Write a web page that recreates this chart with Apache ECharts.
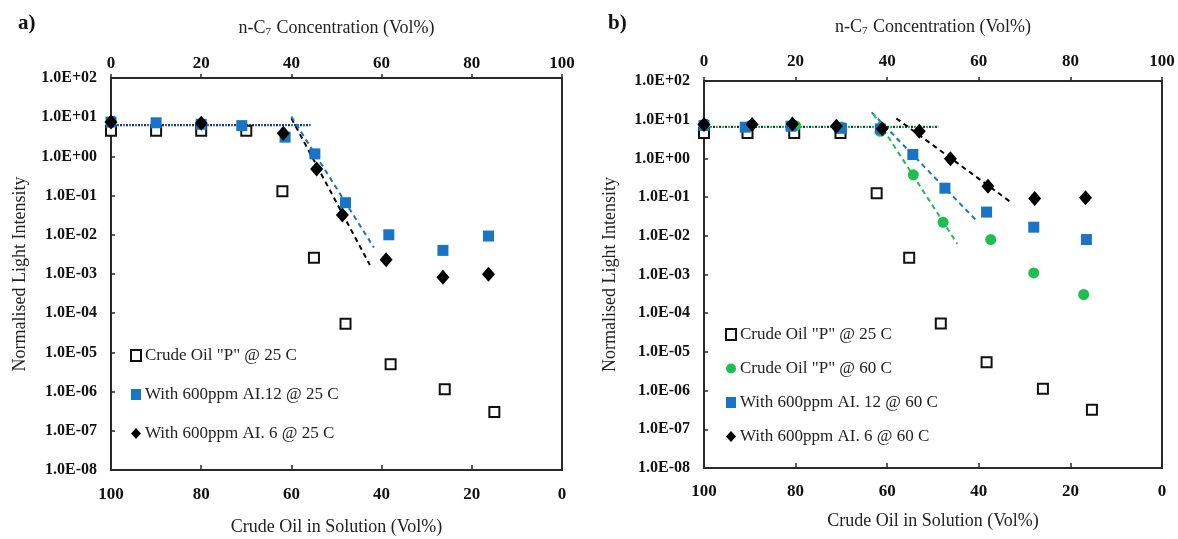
<!DOCTYPE html>
<html><head><meta charset="utf-8">
<script src="https://cdn.jsdelivr.net/npm/echarts@6/dist/echarts.min.js"></script>
<style>html,body{margin:0;padding:0;background:#fff}#c{width:1178px;height:539px}</style>
</head><body><div id="c"></div>
<script>
// ---------- Data (x = Crude Oil in Solution, Vol%; y = Normalised Light Intensity) ----------
// Panel a)
const aP25_x  = [100, 90, 80, 70, 62, 55, 48, 38, 26, 15];
const aP25_y  = [4.5, 4.5, 4.5, 4.5, 0.13, 0.0026, 5.4e-5, 5.0e-6, 1.15e-6, 3.0e-7];
const aAI12_x = [100, 90, 80, 71, 61.4, 54.8, 48, 38.4, 26.4, 16.3];
const aAI12_y = [7.5, 7.2, 6.6, 6.1, 3.1, 1.16, 0.066, 0.010, 0.0040, 0.0093];
const aAI6_x  = [100, 80, 61.8, 54.4, 48.7, 39.0, 26.4, 16.3];
const aAI6_y  = [7.5, 7.0, 3.9, 0.48, 0.032, 0.0023, 8.3e-4, 9.8e-4];
// trend lines a) (end points)
const aFlat_x = [100, 55.7];  const aFlat_y = [6.3, 6.3];
const aAI6Trend_x  = [60, 42.6]; const aAI6Trend_y  = [9.4, 0.0017];
const aAI12Trend_x = [60, 41.7]; const aAI12Trend_y = [10.4, 0.0047];

// Panel b)
const bP25_x  = [100, 90.5, 80.3, 70.2, 62.3, 55.2, 48.3, 38.3, 26.0, 15.3];
const bP25_y  = [4.5, 4.5, 4.5, 4.5, 0.126, 0.0027, 5.4e-5, 5.4e-6, 1.12e-6, 3.2e-7];
const bP60_x  = [100, 90, 80, 70, 61.5, 54.3, 47.8, 37.4, 28.0, 17.1];
const bP60_y  = [7.0, 7.0, 7.0, 6.5, 5.0, 0.377, 0.0224, 0.008, 0.0011, 3.04e-4];
const bAI12_x = [100, 91, 81, 70, 61.5, 54.4, 47.4, 38.3, 28.0, 16.5];
const bAI12_y = [7.1, 6.4, 6.8, 6.0, 5.8, 1.26, 0.17, 0.041, 0.0167, 0.008];
const bAI6_x  = [100, 89.5, 80.7, 71.1, 61.1, 53.0, 46.2, 38.0, 27.8, 16.7];
const bAI6_y  = [7.5, 7.5, 7.7, 6.8, 5.8, 5.0, 0.98, 0.19, 0.092, 0.096];
// trend lines b)
const bFlat_x = [100, 48.8]; const bFlat_y = [6.5, 6.5];
const bAI6Trend_x  = [58.0, 32.8]; const bAI6Trend_y  = [10.8, 0.071];
const bAI12Trend_x = [63.4, 40.4]; const bAI12Trend_y = [15.5, 0.024];
const bP60Trend_x  = [63.0, 44.7]; const bP60Trend_y  = [14, 0.0062];

// axis ticks / labels
const xTickInterval = 20;
const yMin = 1e-8, yMax = 1e2;
const nameP25  = 'Crude Oil "P" @ 25 C';
const nameP60  = 'Crude Oil "P" @ 60 C';
const nameA12  = 'With 600ppm AI.12 @ 25 C';
const nameA6   = 'With 600ppm AI. 6 @ 25 C';
const nameB12  = 'With 600ppm AI. 12 @ 60 C';
const nameB6   = 'With 600ppm AI. 6 @ 60 C';
const topAxisName = 'n-C{s|7} Concentration (Vol%)';
const bottomAxisName = 'Crude Oil in Solution (Vol%)';
const yAxisName = 'Normalised Light Intensity';

// ---------- Chart ----------
const FF = '"Liberation Serif", "Times New Roman", serif';
const BLUE = '#1a74c6', GREEN = '#1cbf50', BLACK = '#000';
const AX = '#2a2a2a';
const pts = (xs, ys) => xs.map((x, i) => [x, ys[i]]);
const fmtE = v => { const e = Math.round(Math.log10(v)); return '1.0E' + (e < 0 ? '-' : '+') + String(Math.abs(e)).padStart(2, '0'); };

function grids(g) { return { left: g[0], top: g[1], width: g[2], height: g[3], show: false, containLabel: false, outerBoundsMode: 'none' }; }

function bottomAxis(gi, gap, labelMargin) {
  return { type: 'value', gridIndex: gi, min: 0, max: 100, interval: xTickInterval, inverse: true, position: 'bottom',
    axisLine: { show: true, onZero: false, lineStyle: { color: AX, width: 2 } },
    axisTick: { show: true, inside: true, length: 5, lineStyle: { color: AX, width: 1.5 } },
    axisLabel: { fontFamily: FF, fontWeight: 'bold', fontSize: 17, color: '#111', margin: labelMargin },
    splitLine: { show: false },
    name: bottomAxisName, nameLocation: 'middle', nameGap: gap,
    nameTextStyle: { fontFamily: FF, fontSize: 18, color: '#222' } };
}
function topAxis(gi, gap, labelMargin) {
  return { type: 'value', gridIndex: gi, min: 0, max: 100, interval: xTickInterval, position: 'top',
    axisLine: { show: true, onZero: false, lineStyle: { color: AX, width: 2 } },
    axisTick: { show: true, inside: false, length: 4, lineStyle: { color: AX, width: 1.5 } },
    axisLabel: { fontFamily: FF, fontWeight: 'bold', fontSize: 17, color: '#111', margin: labelMargin },
    splitLine: { show: false },
    name: topAxisName, nameLocation: 'middle', nameGap: gap,
    nameTextStyle: { fontFamily: FF, fontSize: 18, color: '#222',
      rich: { s: { fontFamily: FF, fontSize: 11, color: '#222', padding: [9, 1, 0, 0] } } } };
}
function leftAxis(gi, gap) {
  return { type: 'log', logBase: 10, gridIndex: gi, min: yMin, max: yMax, splitNumber: 10, interval: 1, position: 'left',
    axisLine: { show: true, onZero: false, lineStyle: { color: AX, width: 2 } },
    axisTick: { show: true, inside: true, length: 4, lineStyle: { color: AX, width: 1.5 } },
    axisLabel: { fontFamily: FF, fontWeight: 'bold', fontSize: 16, color: '#111', margin: 14, formatter: fmtE,
      showMinLabel: true, showMaxLabel: true, hideOverlap: false },
    splitLine: { show: false }, minorTick: { show: false },
    name: yAxisName, nameLocation: 'middle', nameGap: gap,
    nameTextStyle: { fontFamily: FF, fontSize: 18, color: '#222' } };
}
function rightFrame(gi) {
  return { type: 'log', logBase: 10, gridIndex: gi, min: yMin, max: yMax, position: 'right',
    axisLine: { show: true, onZero: false, lineStyle: { color: AX, width: 2 } },
    axisTick: { show: false }, axisLabel: { show: false }, splitLine: { show: false }, minorTick: { show: false } };
}

function scatter(name, xi, yi, xs, ys, sym, size, color, open) {
  return { type: 'scatter', name, xAxisIndex: xi, yAxisIndex: yi, data: pts(xs, ys), symbol: sym, symbolSize: size,
    itemStyle: open ? { color: '#fff', borderColor: '#111', borderWidth: 2, opacity: 1 } : { color, borderWidth: 0, opacity: 1 },
    emphasis: { disabled: true }, z: 3 };
}
function trend(name, xi, yi, xs, ys, color, type, width, offset) {
  return { type: 'line', name, xAxisIndex: xi, yAxisIndex: yi, data: pts(xs, ys), symbol: 'none',
    lineStyle: { color, width: width || 2, type, dashOffset: offset || 0 }, silent: true, z: 2, legendHoverLink: false };
}

const legendCommon = { orient: 'vertical', itemWidth: 10, itemHeight: 11, selectedMode: false,
  textStyle: { fontFamily: FF, fontSize: 17, color: '#222', padding: [2, 0, 0, -1] } };

const option = {
  animation: false,
  backgroundColor: '#fff',
  graphic: [
    { type: 'text', left: 18, top: 13, style: { text: 'a)', font: 'bold 21px ' + FF, fill: '#111' } },
    { type: 'text', left: 608, top: 13, style: { text: 'b)', font: 'bold 21px ' + FF, fill: '#111' } }
  ],
  grid: [grids([111, 78, 451, 392]), grids([704, 81, 458, 387])],
  xAxis: [bottomAxis(0, 48, 16), topAxis(0, 40, 6), bottomAxis(1, 44, 15), topAxis(1, 44, 11)],
  yAxis: [leftAxis(0, 82), leftAxis(1, 85), rightFrame(0), rightFrame(1)],
  legend: [
    Object.assign({}, legendCommon, { left: 125, top: 342, itemGap: 22, data: [nameP25, nameA12, nameA6] }),
    Object.assign({}, legendCommon, { left: 720, top: 321, itemGap: 17, data: [nameP25, nameP60, nameB12, nameB6] })
  ],
  series: [
    // panel a
    trend('a-flat-blue', 0, 0, aFlat_x, aFlat_y, BLUE, [2, 4], 2.2, 0),
    trend('a-flat-black', 0, 0, aFlat_x, aFlat_y, '#333', [2, 4], 2.2, 3),
    trend('a-ai6-trend', 0, 0, aAI6Trend_x, aAI6Trend_y, BLACK, [5, 4], 2),
    trend('a-ai12-trend', 0, 0, aAI12Trend_x, aAI12Trend_y, BLUE, [5, 4], 2),
    scatter(nameP25, 0, 0, aP25_x, aP25_y, 'rect', 10, '#fff', true),
    scatter(nameA12, 0, 0, aAI12_x, aAI12_y, 'rect', 11, BLUE, false),
    scatter(nameA6, 0, 0, aAI6_x, aAI6_y, 'diamond', [13, 15], BLACK, false),
    // panel b
    trend('b-flat-green', 2, 1, bFlat_x, bFlat_y, GREEN, [2, 4], 2.2, 0),
    trend('b-flat-black', 2, 1, bFlat_x, bFlat_y, '#333', [2, 4], 2.2, 3),
    trend('b-ai6-trend', 2, 1, bAI6Trend_x, bAI6Trend_y, BLACK, [5, 4], 2),
    trend('b-ai12-trend', 2, 1, bAI12Trend_x, bAI12Trend_y, BLUE, [5, 4], 2),
    trend('b-p60-trend', 2, 1, bP60Trend_x, bP60Trend_y, GREEN, [5, 4], 2),
    scatter(nameP25, 2, 1, bP25_x, bP25_y, 'rect', 10, '#fff', true),
    scatter(nameP60, 2, 1, bP60_x, bP60_y, 'circle', 11, GREEN, false),
    scatter(nameB12, 2, 1, bAI12_x, bAI12_y, 'rect', 11, BLUE, false),
    scatter(nameB6, 2, 1, bAI6_x, bAI6_y, 'diamond', [13, 15], BLACK, false)
  ]
};
const chart = echarts.init(document.getElementById('c'), null, { renderer: 'canvas' });
chart.setOption(option);
</script>
</body></html>
